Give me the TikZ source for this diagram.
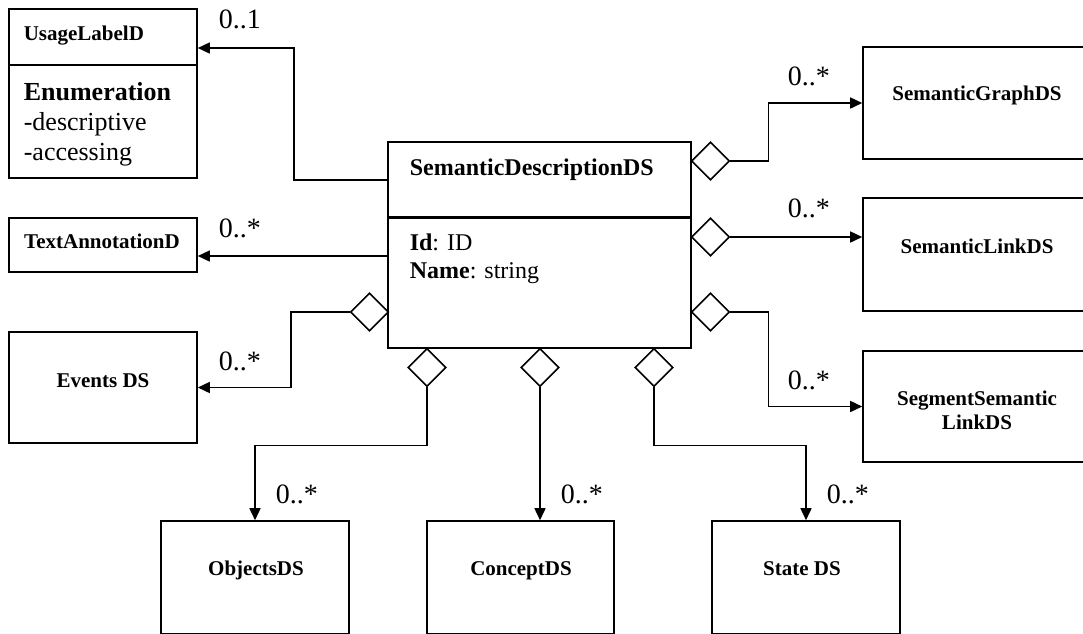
\documentclass[tikz,border=0pt]{standalone}
\usepackage{fontspec}
\setmainfont{Liberation Serif}
\usetikzlibrary{arrows.meta,shapes.geometric}
\begin{document}
\begin{tikzpicture}[x=1pt,y=-1pt,line width=1.6pt,
  box/.style={draw,inner sep=0pt},
  dia/.style={draw,diamond,fill=white,inner sep=0pt,minimum width=38pt,minimum height=38pt},
  arr/.style={-{Triangle[length=12pt,width=11pt]}},
  cls/.style={inner sep=0pt,font=\fontsize{21}{25}\selectfont\bfseries},
  body/.style={inner sep=0pt,anchor=base west,font=\fontsize{26}{30}\selectfont},
  attr/.style={inner sep=0pt,anchor=base west,font=\fontsize{24}{28}\selectfont},
  mult/.style={inner sep=0pt,anchor=base west,font=\fontsize{28}{32}\selectfont}]
\useasboundingbox (0,0) rectangle (1083,633);
\clip (0,0) rectangle (1083,633);

% boxes
\node[box,minimum width=188pt,minimum height=169pt] (usage) at (103,93.5) {};
\node[box,minimum width=188pt,minimum height=54pt] (ta) at (103,245) {};
\node[box,minimum width=188pt,minimum height=111pt] (ev) at (103,387.5) {};
\node[box,minimum width=303pt,minimum height=206pt] (sdds) at (539.5,245) {};
\node[box,minimum width=240pt,minimum height=112pt] (sg) at (983,103) {};
\node[box,minimum width=240pt,minimum height=113pt] (sl) at (983,254.5) {};
\node[box,minimum width=240pt,minimum height=111pt] (ssl) at (983,406.5) {};
\node[box,minimum width=188pt,minimum height=113pt] (obj) at (255,577.5) {};
\node[box,minimum width=187pt,minimum height=113pt] (cn) at (520.5,577.5) {};
\node[box,minimum width=188pt,minimum height=113pt] (st) at (806,577.5) {};

% dividers
\draw[line width=2.2pt] ([yshift=28.5pt]usage.west) -- ([yshift=28.5pt]usage.east);
\draw[line width=3pt] ([yshift=28pt]sdds.west) -- ([yshift=28pt]sdds.east);

% texts
\node[cls,anchor=base west] (tusage) at (23,40) {UsageLabelD};
\node[body,font=\fontsize{26}{30}\selectfont\bfseries] (tenum) at (23,100) {Enumeration};
\node[body] (tdesc) at (23,130) {-descriptive};
\node[body] (tacc) at (23,160) {-accessing};
\node[cls,anchor=base] (tta) at (102,248) {TextAnnotationD};
\node[cls,anchor=base] (tev) at (103,387) {Events DS};
\node[attr,font=\fontsize{24}{28}\selectfont\bfseries] (tsdds) at (409,175) {SemanticDescriptionDS};
\node[attr] (tid) at (409,250) {\textbf{Id}: ID};
\node[attr] (tname) at (409,278) {\textbf{Name}: string};
\node[cls,anchor=base] (tsg) at (977,100) {SemanticGraphDS};
\node[cls,anchor=base] (tsl) at (977,253) {SemanticLinkDS};
\node[cls,anchor=base] (tssl1) at (977,405) {SegmentSemantic};
\node[cls,anchor=base] (tssl2) at (977,429) {LinkDS};
\node[cls,anchor=base] (tobj) at (256,575) {ObjectsDS};
\node[cls,anchor=base] (tcn) at (521,575) {ConceptDS};
\node[cls,anchor=base] (tst) at (802,575) {State DS};

% diamonds
\node[dia] (dR1) at (710.5,161) {};
\node[dia] (dR2) at (710.5,237) {};
\node[dia] (dR3) at (710.5,312) {};
\node[dia] (dL) at (369.5,312) {};
\node[dia] (dB1) at (427,367.5) {};
\node[dia] (dB2) at (540,367.5) {};
\node[dia] (dB3) at (654,367.5) {};

% connectors
\draw[arr] ([yshift=65pt]sdds.west) -| ([xshift=96pt,yshift=45.5pt]usage.east) -- ([yshift=45.5pt]usage.east);
\draw[arr] ([yshift=-11pt]sdds.west) -- ([yshift=-11pt]ta.east);
\draw[arr] (dL.west) -- ++(-59,0) |- (ev.east);
\draw[arr] (dB1.south) -- ++(0,58) -| (obj.north);
\draw[arr] (dB2.south) -- (dB2.south |- cn.north);
\draw[arr] (dB3.south) -- ++(0,58) -| (st.north);
\draw[arr] (dR1.east) -- ++(38,0) |- (sg.west);
\draw[arr] (dR2.east) -- (dR2.east -| sl.west);
\draw[arr] (dR3.east) -- ++(38,0) |- (ssl.west);

% multiplicities
\node[mult] (m1) at (218,28) {0..1};
\node[mult] (m2) at (218,237) {0..*};
\node[mult] (m3) at (218,370) {0..*};
\node[mult] (m4) at (787,85) {0..*};
\node[mult] (m5) at (787,217) {0..*};
\node[mult] (m6) at (787,389) {0..*};
\node[mult] (m7) at (275,503) {0..*};
\node[mult] (m8) at (560,503) {0..*};
\node[mult] (m9) at (826,503) {0..*};
\end{tikzpicture}
\end{document}
